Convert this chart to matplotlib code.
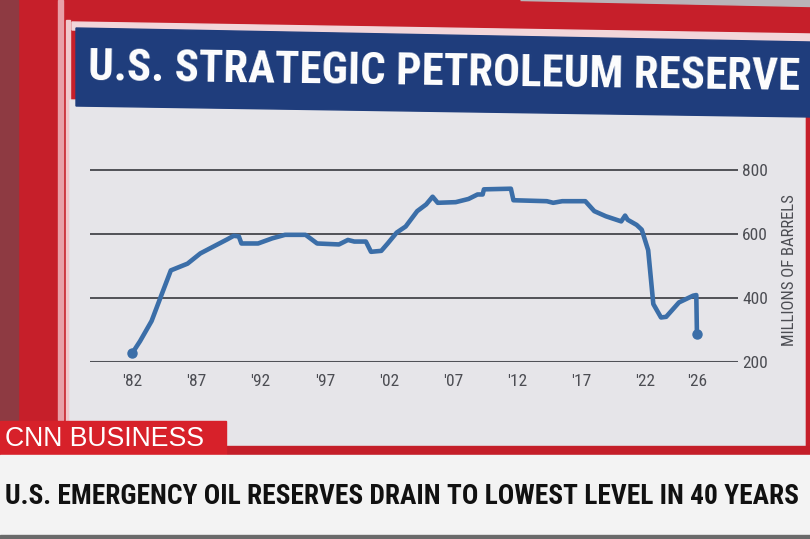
import matplotlib
matplotlib.use("Agg")
import matplotlib.pyplot as plt
from matplotlib import font_manager as fm
from matplotlib.patches import Rectangle, Polygon

# ---------------- data ----------------
years = [1982.0, 1982.6, 1983.5, 1984.2, 1985.0, 1986.3, 1987.3, 1988.3, 1989.4,
         1989.9, 1990.3, 1990.5, 1991.8, 1992.9, 1993.9, 1995.5, 1996.4, 1998.1,
         1998.8, 1999.3, 2000.2, 2000.6, 2001.4, 2001.9, 2002.6, 2003.3, 2004.2,
         2004.9, 2005.4, 2005.8, 2007.2, 2008.2, 2008.9, 2009.3, 2009.4, 2011.5,
         2011.7, 2014.3, 2014.8, 2015.5, 2017.3, 2018.0, 2018.9, 2020.1, 2020.4,
         2020.6, 2021.3, 2021.7, 2022.2, 2022.6, 2022.9, 2023.2, 2023.6, 2024.6,
         2025.7, 2025.95, 2026.0]
reserve = [228, 265, 328, 402, 486, 507, 539, 560, 583,
           594, 592, 570, 570, 586, 597, 597, 570, 567,
           581, 576, 576, 544, 547, 570, 604, 623, 671,
           692, 716, 697, 699, 709, 723, 723, 739, 741,
           705, 702, 697, 702, 702, 671, 655, 639, 657,
           644, 628, 613, 549, 381, 360, 339, 341, 386,
           407, 409, 286]
x_ticks = [1982, 1987, 1992, 1997, 2002, 2007, 2012, 2017, 2022, 2026]
x_tick_labels = ["'82", "'87", "'92", "'97", "'02", "'07", "'12", "'17", "'22", "'26"]
y_ticks = [200, 400, 600, 800]
y_tick_labels = ["200", "400", "600", "800"]
title = "U.S. STRATEGIC PETROLEUM RESERVE"
y_label = "MILLIONS OF BARRELS"
network = "CNN BUSINESS"
headline = "U.S. EMERGENCY OIL RESERVES DRAIN TO LOWEST LEVEL IN 40 YEARS"

# ---------------- fonts ----------------
ttf = fm.fontManager.ttflist
names = {f.name for f in ttf}
cond_family, cond_stretch = None, "normal"
for cand in ["Roboto Condensed", "Noto Sans Condensed", "Liberation Sans Narrow",
             "Open Sans Condensed", "Noto Sans SemiCondensed", "Noto Sans ExtraCondensed"]:
    if cand in names:
        cond_family = cand
        break
if cond_family is None:
    for f in ttf:
        if f.name in ("DejaVu Sans", "Noto Sans", "Open Sans", "Roboto") and f.stretch == "condensed":
            cond_family, cond_stretch = f.name, "condensed"
            break
if cond_family is None:
    cond_family = "DejaVu Sans"
reg_family = "Liberation Sans" if "Liberation Sans" in names else "DejaVu Sans"
COND = dict(family=[cond_family, "DejaVu Sans"], fontstretch=cond_stretch)

W, H = 810, 539
fig = plt.figure(figsize=(W / 100, H / 100), dpi=100)
bg = fig.add_axes([0, 0, 1, 1], zorder=0)
bg.set_xlim(0, W)
bg.set_ylim(H, 0)
bg.axis("off")

# red studio frame
bg.add_patch(Rectangle((0, 0), W, H, color="#c61f2a"))
bg.add_patch(Rectangle((0, 0), 18, 420, color="#8e3a42"))
bg.add_patch(Rectangle((58, 0), 5, 420, color="#e8a0a8"))
bg.add_patch(Rectangle((66, 20), 4, 425, color="#f0c8cc"))
bg.add_patch(Polygon([(520, 0), (810, 0), (810, 6)], closed=True, color="#b9b4b8"))
# chart panel
bg.add_patch(Polygon([(70, 100), (805, 110), (805, 447), (70, 450)], closed=True,
                     color="#e6e5e9"))
# banner
bg.add_patch(Polygon([(72, 22), (810, 34), (810, 42), (72, 30)], closed=True, color="#f2d6da"))
bg.add_patch(Polygon([(76, 28), (810, 42), (810, 117), (76, 106)], closed=True,
                     color="#1f3d7c"))

renderer = fig.canvas.get_renderer()


def fit_text(x, y, s, target_w, fs0=20, rotation=0, **kw):
    t = bg.text(x, y, s, fontsize=fs0, **kw)
    bb = t.get_window_extent(renderer)
    t.set_fontsize(fs0 * target_w / bb.width)
    t.set_rotation(rotation)
    return t


fit_text(88, 68, title, 710, fs0=30, rotation=-0.8, color="white", fontweight="bold",
         ha="left", va="center", rotation_mode="anchor", **COND)

# lower third
bg.add_patch(Rectangle((0, 446), W, 10, color="#c41e29"))
bg.add_patch(Rectangle((0, 421), 226, 35, color="#d7212a"))
bg.add_patch(Rectangle((0, 455), W, 80, color="#f3f3f3"))
bg.add_patch(Rectangle((0, 535), W, 4, color="#6a6a6a"))
fit_text(5, 439, network, 200, fs0=18, color="white", ha="left", va="center",
         family=[reg_family, "DejaVu Sans"])
fit_text(5, 496, headline, 795, fs0=28, color="#111111", fontweight="bold",
         ha="left", va="center", **COND)

# ---------------- chart ----------------
ax = fig.add_axes([90 / W, 1 - 362 / H, (738 - 90) / W, (362 - 165) / H], zorder=2)
ax.set_facecolor("none")
ax.set_xlim(1978.7, 2029.2)
ax.set_ylim(200, 815)
for s in ax.spines.values():
    s.set_visible(False)
for v in y_ticks:
    ax.axhline(v, color="#505157", lw=2.2 if v == y_ticks[0] else 1.4, zorder=1)
ax.plot(years, reserve, color="#3b6ea8", lw=3.3, solid_joinstyle="round",
        solid_capstyle="round", zorder=3)
ax.plot([years[0], years[-1]], [reserve[0], reserve[-1]], "o", color="#3b6ea8",
        ms=6.5, zorder=4)
ax.set_xticks(x_ticks)
ax.set_xticklabels(x_tick_labels)
ax.yaxis.tick_right()
ax.set_yticks(y_ticks)
ax.set_yticklabels(y_tick_labels)
ax.tick_params(axis="x", length=0, pad=9, labelsize=12.5, labelcolor="#4c4d53")
ax.tick_params(axis="y", length=0, pad=3, labelsize=12.5, labelcolor="#4c4d53")
for lab in ax.get_xticklabels() + ax.get_yticklabels():
    lab.set_family([cond_family, "DejaVu Sans"])
    lab.set_fontstretch(cond_stretch)
fig.text(790 / W, 1 - 270 / H, y_label, rotation=90, ha="center", va="center",
         fontsize=12, color="#4c4d53", **COND)

fig.savefig("out.png", dpi=100)
